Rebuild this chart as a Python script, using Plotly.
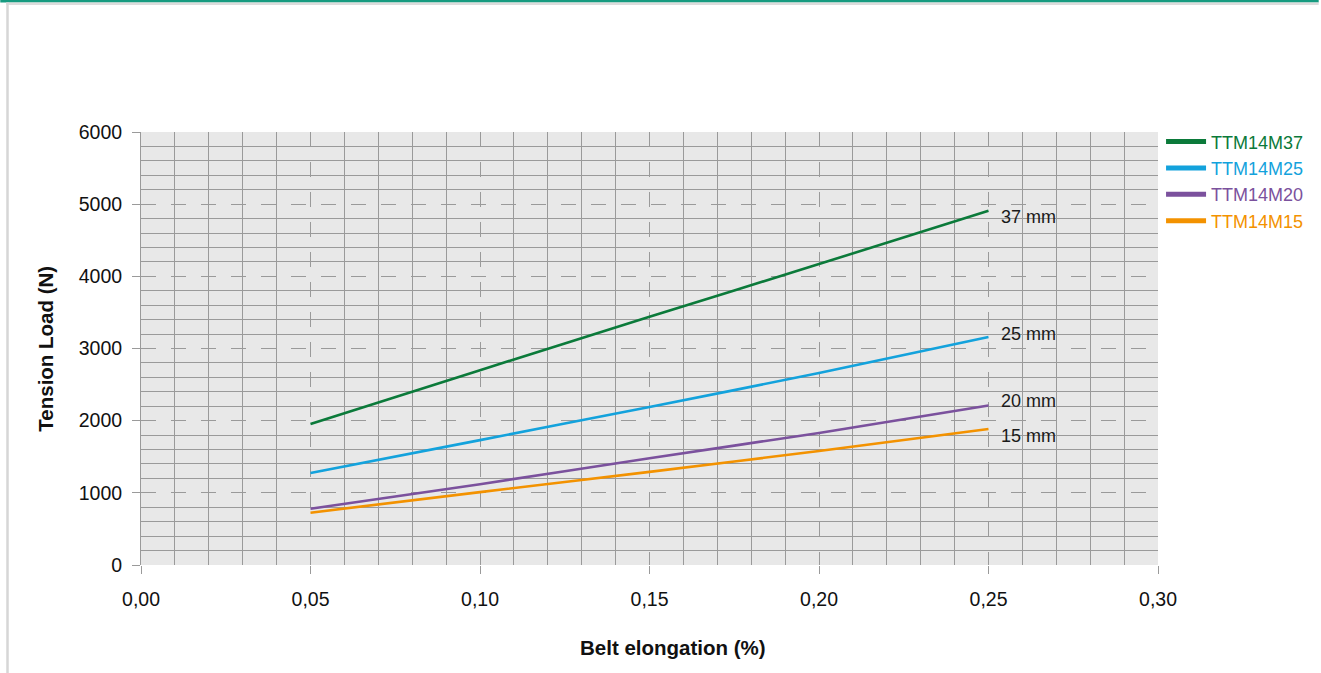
import plotly.graph_objects as go

elong = [0.05, 0.10, 0.15, 0.20, 0.25]
names = ["TTM14M37", "TTM14M25", "TTM14M20", "TTM14M15"]
labels = ["37 mm", "25 mm", "20 mm", "15 mm"]
load_37 = [1955, 2700, 3440, 4170, 4910]
load_25 = [1275, 1730, 2190, 2660, 3160]
load_20 = [780, 1120, 1480, 1830, 2210]
load_15 = [725, 1010, 1290, 1580, 1885]
series = [load_37, load_25, load_20, load_15]
colors = ["#0b7a3a", "#13a2dc", "#7b519d", "#f39200"]
label_shift = [-6, 3, 5, -7]

W, H = 1321, 673
L, R, T, B = 141, 161, 132, 108
pw = W - L - R
ph = H - T - B

fig = go.Figure()
for nm, ys, c in zip(names, series, colors):
    fig.add_trace(go.Scatter(x=elong, y=ys, mode="lines", line=dict(color=c, width=2.6, shape="spline", smoothing=0.6),
                             showlegend=False, hoverinfo="skip"))
for nm, c in zip(names, colors):
    fig.add_trace(go.Scatter(x=[None], y=[None], mode="lines", line=dict(color=c, width=5),
                             name=f"<span style='color:{c}'>{nm}</span>"))

annotations = []
for lab, ys, sh in zip(labels, series, label_shift):
    annotations.append(dict(x=elong[-1], y=ys[-1], text=lab, showarrow=False, xanchor="left",
                            xshift=10, yshift=sh, font=dict(size=18, color="#1a1a1a")))
annotations.append(dict(x=(674 - L) / pw, y=-(647 - 565) / ph, xref="paper", yref="paper", text="<b>Belt elongation (%)</b>",
                        showarrow=False, xanchor="center", yanchor="middle", font=dict(size=20.5, color="#111")))
annotations.append(dict(x=-(141 - 45) / pw, y=0.5, xref="paper", yref="paper", text="<b>Tension Load (N)</b>",
                        showarrow=False, textangle=-90, xanchor="center", yanchor="middle", font=dict(size=20.5, color="#111")))

def px_x(p):
    return (p - L) / pw

def px_y(p):
    return 1 - (p - T) / ph

shapes = [
    dict(type="rect", xref="paper", yref="paper", x0=px_x(0), x1=px_x(W), y0=px_y(0), y1=px_y(2.5),
         fillcolor="#169b80", line=dict(width=0), layer="above"),
    dict(type="rect", xref="paper", yref="paper", x0=px_x(6), x1=px_x(W), y0=px_y(2.5), y1=px_y(5),
         fillcolor="#dcdcdc", line=dict(width=0), layer="above"),
    dict(type="rect", xref="paper", yref="paper", x0=px_x(6), x1=px_x(8.5), y0=px_y(2.5), y1=px_y(H),
         fillcolor="#d6d6d6", line=dict(width=0), layer="above"),
]

fig.update_layout(
    width=W, height=H,
    margin=dict(l=L, r=R, t=T, b=B, pad=0),
    paper_bgcolor="white",
    plot_bgcolor="#e8e8e8",
    separators=", ",
    font=dict(family="Liberation Sans, Arial, sans-serif", size=19.5, color="#111"),
    legend=dict(x=1.003, xanchor="left", y=1.02, yanchor="top", font=dict(size=18),
                tracegroupgap=0, itemwidth=40, bgcolor="rgba(0,0,0,0)", traceorder="normal"),
    annotations=annotations,
    shapes=shapes,
    xaxis=dict(range=[0, 0.30], dtick=0.05, tick0=0, tickformat=".2f",
               showgrid=True, gridcolor="#9a9a9a", gridwidth=1, griddash="15px,15px",
               minor=dict(dtick=0.01, showgrid=True, gridcolor="#9a9a9a", gridwidth=1, griddash="solid"),
               ticks="outside", ticklen=8, tickcolor="#9a9a9a", ticklabelstandoff=9,
               showline=False, zeroline=False, fixedrange=True),
    yaxis=dict(range=[0, 6000], dtick=1000, tick0=0,
               showgrid=True, gridcolor="#9a9a9a", gridwidth=1, griddash="15px,15px",
               minor=dict(dtick=200, showgrid=True, gridcolor="#9a9a9a", gridwidth=1, griddash="solid"),
               ticks="outside", ticklen=8, tickcolor="#9a9a9a", ticklabelstandoff=6,
               showline=True, linecolor="#9a9a9a", linewidth=1, zeroline=False, fixedrange=True),
)

fig.write_html("out.html", config={"displayModeBar": False},
               post_script="document.body.style.margin='0';document.body.style.overflow='hidden';")
